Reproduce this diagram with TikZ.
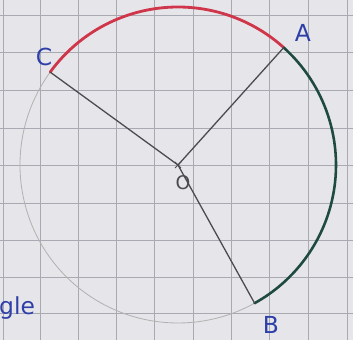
\documentclass[tikz,border=0pt]{standalone}
\usepackage{fontspec}
\setsansfont{DejaVu Sans}
\usetikzlibrary{calc}
\definecolor{paper}{HTML}{E6E6EA}
\definecolor{gridc}{HTML}{A9A9B2}
\definecolor{arcred}{HTML}{D0364A}
\definecolor{arcgreen}{HTML}{1E4A40}
\definecolor{ink}{HTML}{2E3FA8}
\definecolor{pencil}{HTML}{4A4A50}
\begin{document}
\begin{tikzpicture}[x=0.3mm,y=0.3mm,
  gridline/.style={draw=gridc,line width=0.6pt},
  radius line/.style={draw=pencil,line width=1.1pt},
  lbl/.style={text=ink,font=\sffamily\fontsize{20}{20}\selectfont,inner sep=0pt},
  circ/.style={draw=gray!60,line width=0.7pt},
  redarc/.style={draw=arcred,line width=2.4pt,line cap=round},
  greenarc/.style={draw=arcgreen,line width=2.2pt,line cap=round}]
\fill[paper] (0,0) rectangle (353,-340);
\useasboundingbox (0,0) rectangle (353,-340);
\foreach \x in {3,40,78,116,154,193,231,269,308,347}
  \draw[gridline] (\x,0) -- (\x,-340);
\foreach \y in {15,52,90,128,165,203,240,277,313}
  \draw[gridline] (0,-\y) -- (353,-\y);
\coordinate (O) at (178,-165);
\coordinate (A) at ($(O)+(48:158)$);
\coordinate (C) at ($(O)+(144:158)$);
\coordinate (B) at ($(O)+(-61:158)$);
% circle parts
\draw[circ] (C) arc[start angle=144,end angle=299,radius=158];
\draw[redarc] (C) arc[start angle=144,end angle=48,radius=158];
\draw[greenarc] (A) arc[start angle=48,end angle=-61,radius=158];
% radii
\draw[radius line] (O) -- (A);
\draw[radius line] (O) -- (C);
\draw[radius line] (O) -- (B);
% centre mark
\draw[pencil,line width=0.8pt] ($(O)+(-3,3)$) -- ($(O)+(3,-3)$);
\draw[pencil,line width=0.8pt] ($(O)+(-3,-3)$) -- ($(O)+(3,3)$);
% labels
\node[lbl] (lA) at (303,-33) {A};
\node[lbl] (lC) at (44,-57) {C};
\node[lbl] (lB) at (271,-325) {B};
\node[lbl,text=pencil,font=\sffamily\fontsize{16}{16}\selectfont] (lO) at (183,-183) {O};
\node[lbl,anchor=west] (lgle) at (-1,-308) {gle};
\end{tikzpicture}
\end{document}
